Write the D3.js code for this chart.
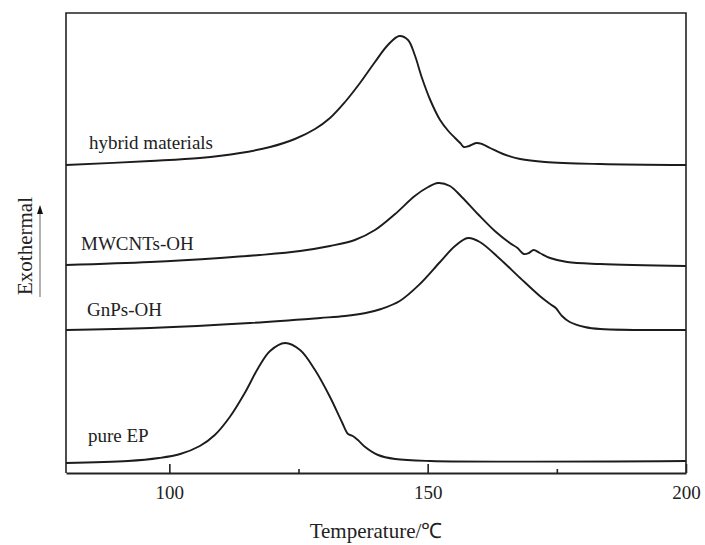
<!DOCTYPE html>
<html>
<head>
<meta charset="UTF-8">
<title>DSC curves</title>
<script src="https://d3js.org/d3.v7.min.js"></script>
<style>
  body { margin: 0; background: #fff; }
  text { font-family: "Liberation Serif", "Times New Roman", serif; fill: #222; }
</style>
</head>
<body>
<div id="chart"></div>
<script>
// temperatures (°C) and heat flow (a.u., stacked)
var hybridT = [80, 96.3, 105.9, 113.7, 119.5, 124.3, 128.2, 131.1, 134, 136.9, 139.8, 142.3, 144.5, 146.2, 147.5, 148.9, 150.5, 152.4, 154, 155.3, 156.3, 157, 158, 159.4, 160.5, 162.1, 164.6, 167.9, 172.7, 183.4, 200];
var hybridV = [308, 312, 315, 320, 326, 334, 344, 355, 371, 390, 411, 428, 437, 433, 418, 395, 373, 353, 342, 335, 330, 326, 327, 330, 329, 325, 319, 314, 311, 309, 308];

var mwcntT = [80, 96.3, 109.8, 117.5, 125.3, 131.1, 135.9, 139.8, 143.7, 147.5, 150.1, 152, 154.3, 156.6, 159.7, 163, 165.9, 167.4, 168.6, 169.6, 170.5, 171.7, 173.7, 177, 183.4, 200];
var mwcntV = [208, 211, 215, 218, 222, 227, 233, 243, 259, 277, 286, 290, 287, 276, 259, 242, 230, 225, 219, 220, 223, 220, 215, 211, 209, 207];

var gnpT = [80, 96.3, 115.6, 129.2, 134, 138, 141, 144.6, 148.5, 152.4, 155.3, 157.8, 160.1, 164, 167.9, 171.7, 173.7, 174.8, 176, 177.5, 180.4, 183.4, 200];
var gnpV = [143, 145, 150, 155, 157, 160, 164, 172, 189, 211, 227, 235, 231, 214, 195, 177, 169, 165, 157, 151, 146, 144, 143];

var pureT = [80, 92, 98, 102.1, 105.9, 108.8, 111.7, 114.6, 117.2, 119.5, 122.4, 125.3, 128.2, 131.1, 133.4, 134.6, 135.5, 136.5, 137.9, 140.4, 143.7, 150.5, 200];
var pureV = [10, 12, 15, 19, 27, 38, 56, 80, 105, 122, 130, 123, 103, 76, 51, 39, 37, 33, 26, 18, 14, 12, 12];

var seriesNames = ['hybrid materials', 'MWCNTs-OH', 'GnPs-OH', 'pure EP'];
var seriesT = [hybridT, mwcntT, gnpT, pureT];
var seriesV = [hybridV, mwcntV, gnpV, pureV];

var majorTicks = [100, 150, 200];
var minorTicks = [125, 175];

var width = 705, height = 545;
var margin = { top: 13, right: 19, bottom: 72, left: 66 };
var w = width - margin.left - margin.right;
var h = height - margin.top - margin.bottom;

var svg = d3.select('#chart').append('svg')
  .attr('width', width)
  .attr('height', height);

var g = svg.append('g')
  .attr('transform', 'translate(' + margin.left + ',' + margin.top + ')');

var x = d3.scaleLinear().domain([80, 200]).range([0, w]);
var y = d3.scaleLinear().domain([0, 460]).range([h, 0]);

var line = d3.line()
  .x(function(d) { return x(d[0]); })
  .y(function(d) { return y(d[1]); })
  .curve(d3.curveCatmullRom.alpha(0.5));

seriesNames.forEach(function(name, i) {
  var pts = seriesT[i].map(function(t, j) { return [t, seriesV[i][j]]; });
  g.append('path')
    .attr('d', line(pts))
    .attr('fill', 'none')
    .attr('stroke', '#1c1c1c')
    .attr('stroke-width', 1.9);
});

// curve labels, placed above each curve's left baseline
var labelX = [23, 15, 21, 22];
var labelLift = [16, 15, 14, 21];
seriesNames.forEach(function(name, i) {
  g.append('text')
    .attr('x', labelX[i])
    .attr('y', y(seriesV[i][0]) - labelLift[i])
    .attr('font-size', 19)
    .text(name);
});

// frame
g.append('path')
  .attr('d', 'M0,' + h + 'V0H' + w + 'V' + h)
  .attr('fill', 'none')
  .attr('stroke', '#222')
  .attr('stroke-width', 1.6);

var axis = g.append('g')
  .attr('transform', 'translate(0,' + h + ')')
  .call(d3.axisBottom(x).tickValues(majorTicks).tickSizeInner(-9).tickSizeOuter(0).tickPadding(12.5));
axis.select('.domain').attr('stroke', '#222').attr('stroke-width', 2);
axis.selectAll('.tick line').attr('stroke', '#222').attr('stroke-width', 1.6);
axis.selectAll('.tick text').attr('font-size', 19).attr('font-family', '"Liberation Serif", serif').attr('fill', '#222');

var minor = g.append('g')
  .attr('transform', 'translate(0,' + h + ')')
  .call(d3.axisBottom(x).tickValues(minorTicks).tickSizeInner(-4).tickSizeOuter(0).tickFormat(''));
minor.select('.domain').remove();
minor.selectAll('.tick line').attr('stroke', '#222').attr('stroke-width', 1.6);

// axis titles
svg.append('text')
  .attr('x', margin.left + w / 2)
  .attr('y', 538)
  .attr('text-anchor', 'middle')
  .attr('font-size', 21)
  .text('Temperature/℃');

svg.append('text')
  .attr('transform', 'translate(32,246) rotate(-90)')
  .attr('text-anchor', 'middle')
  .attr('font-size', 21)
  .text('Exothermal');

// exothermal arrow
svg.append('line')
  .attr('x1', 40).attr('x2', 40)
  .attr('y1', 297).attr('y2', 212)
  .attr('stroke', '#999')
  .attr('stroke-width', 1.5);
svg.append('path')
  .attr('d', 'M40,205L37,214L43,214Z')
  .attr('fill', '#111');
</script>
</body>
</html>
